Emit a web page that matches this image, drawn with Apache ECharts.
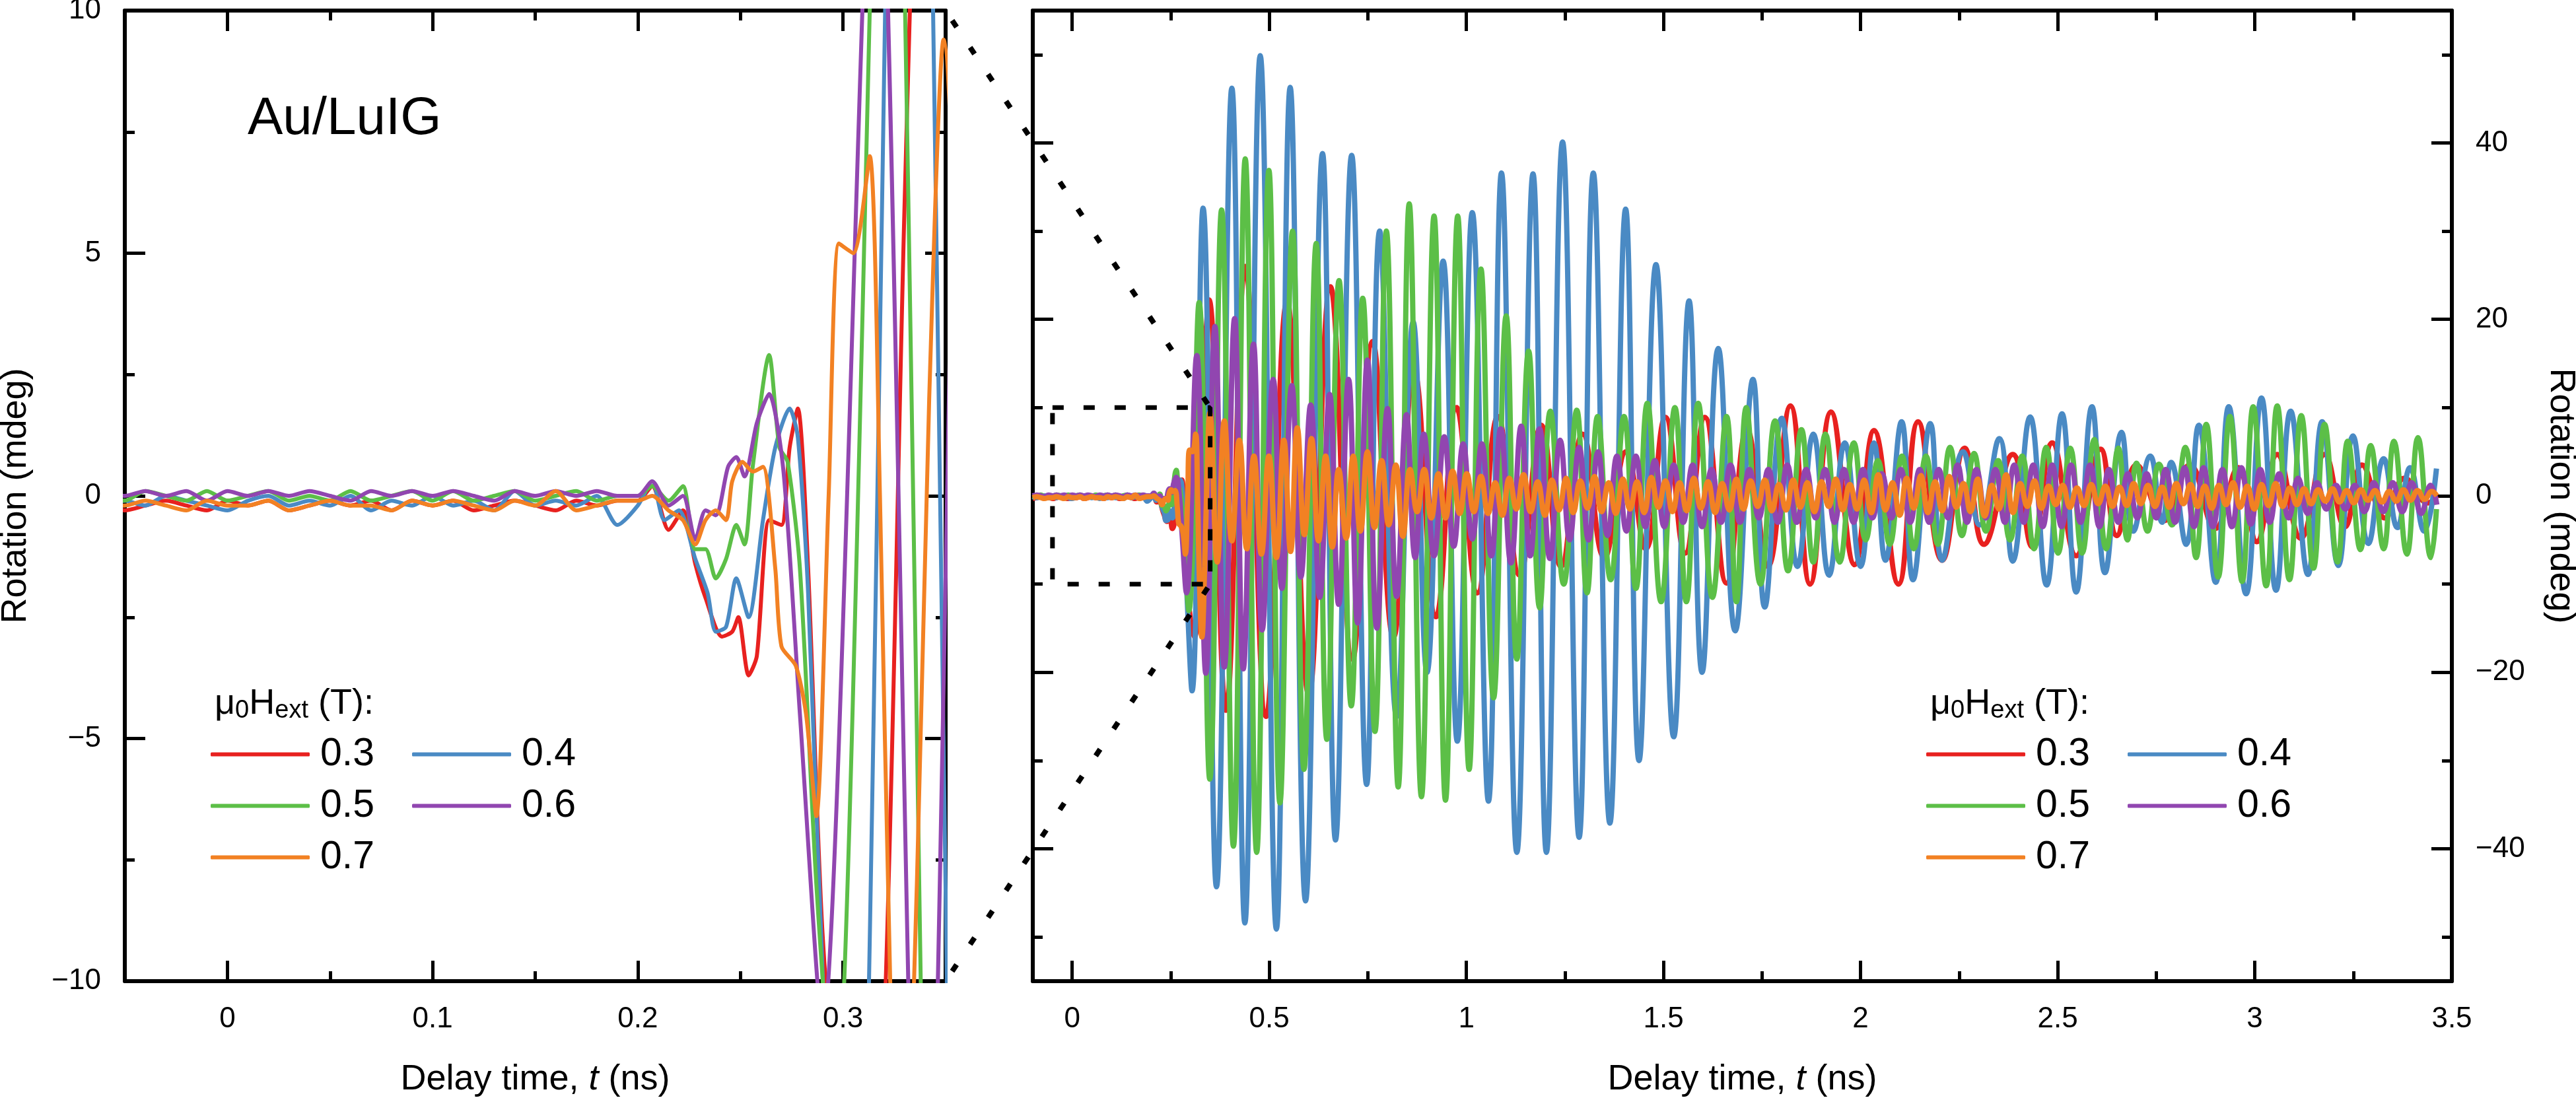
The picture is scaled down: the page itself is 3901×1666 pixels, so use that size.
<!DOCTYPE html>
<html>
<head>
<meta charset="utf-8">
<script src="https://cdn.jsdelivr.net/npm/echarts@6/dist/echarts.min.js"></script>
<style>
html,body{margin:0;padding:0;background:#fff;}
#chart{width:3901px;height:1666px;}
</style>
</head>
<body>
<div id="chart"></div>
<script>
var FONT = '"Liberation Sans", Arial, sans-serif';

// field values (T) and colours
var fieldNames = ['0.3', '0.4', '0.5', '0.6', '0.7'];
var fieldColors = ['#e8211f', '#4a8ac4', '#5cbf47', '#9146b0', '#f28123'];

// axis ranges
var zoomT = [-0.05, 0.35], zoomV = [-10, 10];
var fullT = [-0.1, 3.5], fullV = [-55, 55];

// tick positions
var leftXMajor = [0, 0.1, 0.2, 0.3];
var leftXMinor = [0.05, 0.15, 0.25];
var leftYMajor = [-10, -5, 0, 5, 10];
var leftYMinor = [-7.5, -2.5, 2.5, 7.5];
var rightXMajor = [0, 0.5, 1, 1.5, 2, 2.5, 3, 3.5];
var rightXMinor = [0.25, 0.75, 1.25, 1.75, 2.25, 2.75, 3.25];
var rightYMajor = [-40, -20, 0, 20, 40];
var rightYMinor = [-50, -30, -10, 10, 30, 50];

// pre-excitation baseline, sampled every 10 ps
var baseT = [-0.10,-0.09,-0.08,-0.07,-0.06,-0.05,-0.04,-0.03,-0.02,-0.01,0,0.01,0.02,0.03,0.04,0.05,0.06,0.07,0.08,0.09,0.10,0.11,0.12,0.13,0.14,0.15,0.16,0.17,0.18,0.19];
var base03 = [-0.3,-0.2,-0.1,-0.2,-0.1,-0.3,-0.2,-0.1,-0.2,-0.3,-0.1,-0.2,-0.1,-0.3,-0.2,-0.1,-0.2,-0.1,-0.3,-0.1,-0.2,-0.1,-0.3,-0.2,-0.1,-0.2,-0.3,-0.1,-0.2,-0.1];
var base04 = [-0.1,-0.2,-0.1,0.0,-0.2,-0.1,-0.2,0.0,-0.1,-0.2,-0.3,-0.1,0.0,-0.2,-0.1,-0.2,0.0,-0.3,-0.1,-0.2,0.0,-0.2,-0.1,-0.3,0.1,-0.2,-0.1,-0.2,0.0,-0.6];
var base05 = [0.0,-0.1,0.1,-0.1,0.0,-0.1,0.1,0.0,-0.1,0.1,-0.1,0.0,0.1,-0.1,0.0,-0.1,0.1,-0.1,0.0,0.1,-0.1,0.1,-0.1,0.0,0.1,-0.1,0.0,0.1,-0.1,0.0];
var base06 = [0.0,0.1,0.0,-0.1,0.1,0.0,0.1,0.0,0.1,-0.1,0.1,0.0,0.1,0.0,0.1,0.0,-0.1,0.1,0.0,0.1,0.0,0.1,0.0,-0.1,0.1,0.0,0.1,0.0,0.1,0.0];
var base07 = [-0.2,-0.1,-0.2,-0.3,-0.2,-0.2,-0.1,-0.2,-0.3,-0.1,-0.2,-0.2,-0.1,-0.3,-0.2,-0.1,-0.2,-0.2,-0.3,-0.1,-0.2,-0.1,-0.2,-0.3,-0.1,-0.2,0.1,-0.3,-0.2,-0.1];

// signal after excitation: [t (ns), rotation (mdeg)]
var wave03 = [[0.200,-0.1],[0.207,0.2],[0.215,-0.7],[0.222,-0.3],[0.228,-1.4],[0.233,-2.1],[0.241,-2.9],[0.246,-2.8],[0.249,-2.5],[0.254,-3.7],[0.258,-3.3],[0.264,-0.5],[0.270,-0.6],[0.274,1.0],[0.278,1.8],[0.283,-1.5],[0.290,-9],[0.300,-14],[0.310,-16],[0.320,-11],[0.330,6],[0.338,17],[0.347,22.2],
[0.390,-24.3],[0.439,26],[0.492,-25],[0.545,22],[0.600,-22.5],[0.655,23.7],[0.711,-18.5],[0.762,17.5],[0.815,-16],[0.868,14],[0.923,-13.7],[0.975,10],[1.028,-11],[1.080,9],[1.135,-9],[1.190,8],[1.240,-8],[1.295,7],[1.350,-7],[1.405,5],[1.455,-6],[1.505,8.9],[1.555,-6.5],[1.605,8.9],[1.660,-9.9],[1.712,7.5],[1.765,-8],[1.822,10.2],[1.872,-10],[1.925,9.5],[1.985,-7.8],[2.034,7.4],[2.096,-10],[2.146,8.4],[2.207,-7.3],[2.264,5.4],[2.313,-5.5],[2.386,4.7],[2.436,-5.8],[2.486,6],[2.547,-6.8],[2.609,5.3],[2.650,-4.5],[2.700,3.5],[2.770,-2.8],[2.835,3.5],[2.900,-3.7],[2.958,3.2],[3.005,-5.2],[3.057,4.7],[3.117,-4.8],[3.177,4.7],[3.229,-3.5],[3.272,3.5],[3.330,-2.5],[3.380,2],[3.440,-0.8],[3.462,0]];

var wave04 = [[0.200,-0.2],[0.207,0.3],[0.213,-0.5],[0.220,-0.3],[0.228,-1.3],[0.234,-2.0],[0.238,-2.8],[0.243,-2.7],[0.248,-1.7],[0.254,-2.5],[0.261,-0.5],[0.267,1.0],[0.274,1.8],[0.278,1.2],[0.283,-2],[0.292,-12],[0.304,-22.1],[0.332,32.6],[0.366,-44.3],
[0.405,46.2],[0.438,-48.4],[0.477,49.9],[0.518,-49.1],[0.553,46.3],[0.592,-45.9],[0.635,38.8],[0.668,-39],[0.709,38.6],[0.747,-32.7],[0.780,30],[0.823,-25],[0.865,19.7],[0.900,-20],[0.941,26.6],[0.977,-27.8],[1.015,32.1],[1.056,-34.6],[1.089,36.6],[1.128,-40.4],[1.169,36.5],[1.203,-40.4],[1.244,40.1],[1.286,-38.7],[1.322,36.6],[1.364,-37.1],[1.404,32.5],[1.438,-30],[1.481,26.2],[1.526,-27.3],[1.565,22.1],[1.598,-20],[1.639,16.7],[1.682,-15.3],[1.727,13.2],[1.757,-12.6],[1.800,8.8],[1.840,-8],[1.880,7],[1.920,-9],[1.960,6],[2.000,-8],[2.034,6],[2.063,-7.3],[2.104,8.4],[2.133,-9.5],[2.177,8.2],[2.207,-7.3],[2.260,5],[2.302,-3.3],[2.352,6.5],[2.386,-7.4],[2.430,8.95],[2.472,-10.1],[2.511,9.3],[2.547,-10.9],[2.587,10.1],[2.620,-8.7],[2.662,7.2],[2.692,-4.0],[2.735,4.5],[2.765,-3],[2.788,3.8],[2.826,-5.5],[2.858,8.0],[2.901,-9.8],[2.934,10.1],[2.978,-11.1],[3.017,11.1],[3.054,-10.7],[3.091,9.6],[3.135,-8.9],[3.171,8.4],[3.212,-7.9],[3.249,6.8],[3.288,-5.4],[3.327,4.2],[3.362,-3.6],[3.394,3.2],[3.430,-4.0],[3.461,3.1]];

var wave05 = [[0.200,0.0],[0.207,0.2],[0.215,-0.1],[0.222,0.2],[0.228,-1.1],[0.233,-1.1],[0.238,-1.7],[0.243,-1.3],[0.248,-0.6],[0.252,-1.0],[0.256,0.6],[0.264,2.9],[0.269,1.0],[0.273,0.7],[0.279,-1.5],[0.287,-8],[0.296,-13],[0.322,21.9],[0.349,-32.1],
[0.379,32.4],[0.409,-39.7],[0.439,38.2],[0.468,-40.4],[0.499,36.9],[0.527,-34.8],[0.559,30.0],[0.588,-31],[0.619,28.6],[0.646,-27.6],[0.677,24.4],[0.708,-23.8],[0.737,22.4],[0.768,-26.7],[0.797,30.0],[0.827,-33.0],[0.855,33.1],[0.886,-34.1],[0.918,31.7],[0.947,-34.5],[0.978,31.7],[1.007,-31.0],[1.037,25.7],[1.069,-22.9],[1.101,20.4],[1.128,-18.5],[1.158,16.4],[1.186,-12.7],[1.213,9.6],[1.247,-10],[1.280,9.7],[1.306,-11],[1.333,9.0],[1.366,-9.5],[1.400,9.0],[1.430,-10.5],[1.459,10.5],[1.494,-12],[1.529,10.0],[1.558,-12],[1.588,10.5],[1.624,-11.5],[1.660,9.0],[1.685,-12],[1.710,10.0],[1.746,-10],[1.783,8.5],[1.816,-8.5],[1.850,7.5],[1.880,-7.5],[1.911,7.0],[1.947,-7.5],[1.983,6.0],[2.013,-5],[2.044,4.0],[2.074,-5.5],[2.105,4.5],[2.135,-6],[2.166,4.5],[2.196,-5.5],[2.227,5.5],[2.257,-4.5],[2.288,4.8],[2.318,-4],[2.349,4.0],[2.379,-5],[2.410,4.5],[2.440,-6],[2.471,5.5],[2.501,-6.5],[2.532,5.4],[2.562,-6.5],[2.593,6.4],[2.623,-6],[2.654,5.4],[2.677,-5],[2.700,3.7],[2.728,-4],[2.757,3.6],[2.790,-3.3],[2.824,5.5],[2.851,-7.0],[2.877,8.1],[2.907,-9.2],[2.937,9.0],[2.968,-9.7],[2.996,10.1],[3.029,-10.2],[3.057,10.2],[3.088,-9.5],[3.118,9.1],[3.149,-8.2],[3.177,8.1],[3.210,-7.5],[3.236,6.2],[3.268,-6.1],[3.294,5.7],[3.327,-6.0],[3.353,6.2],[3.386,-6.6],[3.414,6.6],[3.447,-7.0],[3.461,-1.5]];

var wave06 = [[0.200,0.0],[0.207,0.3],[0.215,-0.2],[0.222,0.0],[0.228,-0.9],[0.233,-0.3],[0.238,-0.4],[0.244,0.6],[0.248,0.8],[0.252,0.4],[0.258,1.5],[0.264,2.1],[0.271,0.5],[0.279,-4.5],[0.290,-11],[0.316,15.9],[0.339,-20.1],
[0.362,19.2],[0.386,-19.4],[0.412,20.1],[0.434,-19.6],[0.460,17.2],[0.482,-15.2],[0.510,13.2],[0.532,-10.5],[0.557,12.5],[0.580,-9.2],[0.605,10.3],[0.628,-11.5],[0.653,11.5],[0.676,-12.3],[0.701,13.2],[0.724,-14.4],[0.749,15.4],[0.773,-15],[0.800,9.9],[0.823,-11.4],[0.848,9.2],[0.870,-7],[0.892,7.0],[0.918,-6.8],[0.944,6.7],[0.968,-5.7],[0.992,5.9],[1.015,-4.9],[1.039,5.9],[1.063,-6.8],[1.087,7.6],[1.113,-7.6],[1.139,7.9],[1.162,-6.8],[1.186,7.6],[1.212,-7.1],[1.238,6.3],
[1.262,-5],[1.286,5.5],[1.310,-5],[1.334,5],[1.358,-4.5],[1.382,4.5],[1.406,-4],[1.430,4.5],[1.454,-3.5],[1.478,4],[1.502,-3.5],[1.526,3.5],[1.550,-3],[1.574,3.5],[1.598,-3.5],[1.622,3],[1.646,-3],[1.670,3.5],[1.694,-3],[1.718,3],[1.742,-2.5],[1.766,3],[1.790,-3],[1.814,3.5],[1.838,-3],[1.862,3],[1.886,-2.5],[1.910,3],[1.934,-3],[1.958,3],[1.982,-3],[2.006,3],[2.030,-2.5],[2.054,2.5],[2.078,-2.5],[2.102,3],[2.126,-3],[2.150,3],[2.174,-3],[2.198,3],[2.222,-2.5],[2.246,3.5],[2.270,-3],[2.294,3],[2.318,-2.5],[2.342,3],[2.366,-3],[2.390,3.5],[2.414,-3],[2.438,3.5],[2.462,-3.5],[2.486,3.5],[2.510,-3.5],[2.534,3.5],[2.558,-3],[2.582,3.5],[2.606,-3.5],[2.630,3],[2.654,-3],[2.678,2.5],[2.702,-2.5],[2.726,2.5],[2.750,-2.5],[2.774,3],[2.798,-3],[2.822,3.2],[2.846,-3.5],[2.870,3.2],[2.894,-3.5],[2.918,3],[2.942,-3.5],[2.966,3.2],[2.990,-3.2],[3.014,3],[3.038,-3],[3.062,2.5],[3.086,-2.5],[3.110,2],[3.134,-2],[3.158,1.5],[3.182,-1.5],[3.206,1.2],[3.230,-1.5],[3.254,1.2],[3.278,-1.8],[3.302,1.5],[3.326,-1.8],[3.350,1.5],[3.374,-1.8],[3.398,1.5],[3.422,-2],[3.446,1.2],[3.462,-1]];

var wave07 = [[0.200,-0.1],[0.207,0.0],[0.215,-0.3],[0.222,-0.5],[0.228,-1.0],[0.233,-0.5],[0.238,-0.3],[0.243,-0.5],[0.246,0.3],[0.251,0.7],[0.256,0.5],[0.261,0.6],[0.267,-1.5],[0.270,-3.1],[0.277,-3.5],[0.282,-4.5],[0.287,-6.6],[0.293,0],[0.298,5.2],[0.305,5.0],[0.313,7.0],[0.318,0],[0.323,-10],[0.329,-16],[0.336,-8],[0.342,2],[0.349,9.4],
[0.368,-7.5],[0.386,8.5],[0.405,-5.1],[0.424,6.3],[0.443,-6],[0.461,4.5],[0.480,-6.6],[0.499,4.5],[0.518,-7.0],[0.537,6.3],[0.554,-6.3],[0.571,7.7],[0.589,-4.4],[0.607,6.5],[0.625,-5.1],[0.643,4.5],[0.660,-5.8],[0.676,3.0],[0.695,-4.8],[0.713,4.5],[0.731,-4],[0.749,5],[0.767,-3.6],[0.785,4],[0.803,-3.3],[0.821,3.5],[0.839,-4.6],[0.857,3],[0.875,-1.8],[0.893,3],[0.911,-2.5],[0.929,2.5],[0.947,-2.5],[0.965,2.8],[0.983,-2],[1.001,2.5],
[1.019,-1.8],[1.037,2.2],[1.055,-2.0],[1.073,1.5],[1.091,-2.2],[1.109,2.0],[1.127,-1.5],[1.145,2.4],[1.163,-1.8],[1.181,1.6],[1.199,-2.2],[1.217,1.8],[1.235,-1.6],[1.253,2.0],[1.271,-1.9],[1.289,1.7],[1.307,-1.4],[1.325,2.2],[1.343,-1.8],[1.361,1.5],[1.379,-2.0],[1.397,1.9],[1.415,-1.5],[1.433,1.6],[1.451,-1.9],[1.469,2.1],[1.487,-1.3],[1.505,1.7],[1.523,-1.8],[1.541,1.5],[1.559,-1.7],[1.577,2.0],[1.595,-1.4],[1.613,1.6],[1.631,-1.9],[1.649,1.4],[1.667,-1.6],[1.685,1.9],[1.703,-1.5],[1.721,1.7],[1.739,-1.2],[1.757,1.8],[1.775,-1.7],[1.793,1.3],[1.811,-1.6],[1.829,1.8],[1.847,-1.3],[1.865,1.5],[1.883,-1.8],[1.901,1.6],[1.919,-1.2],[1.937,1.9],[1.955,-1.6],[1.973,1.3],[1.991,-1.5],[2.009,1.8],[2.027,-1.9],[2.045,2.4],[2.063,-1.6],[2.081,1.5],[2.099,-2.2],[2.117,2.0],[2.135,-1.4],[2.153,2.3],[2.171,-1.9],[2.189,1.6],[2.207,-1.7],[2.225,2.2],[2.243,-1.3],[2.261,1.4],[2.279,-1.8],[2.297,1.9],[2.315,-2.3],[2.333,1.2],[2.351,-1.5],[2.369,2.4],[2.387,-1.9],[2.405,1.4],[2.423,-1.2],[2.441,1.7],[2.459,-1.4],[2.477,1.1],[2.495,-1.0],[2.513,1.2],[2.531,-1.3],[2.549,0.9],[2.567,-1.1],[2.585,1.3],[2.603,-0.9],[2.621,1.1],[2.639,-1.2],[2.657,1.0],[2.675,-1.1],[2.693,1.4],[2.711,-0.9],[2.729,1.2],[2.747,-1.2],[2.765,1.0],[2.783,-1.3],[2.801,1.4],[2.819,-0.9],[2.837,1.3],[2.855,-1.2],[2.873,1.1],[2.891,-1.4],[2.909,1.2],[2.927,-1.0],[2.945,1.5],[2.963,-1.3],[2.981,1.1],[2.999,-1.5],[3.017,1.3],[3.035,-1.1],[3.053,1.4],[3.071,-1.2],[3.089,0.9],[3.107,-1.0],[3.125,0.8],[3.143,-0.9],[3.161,0.7],[3.179,-0.6],[3.197,0.8],[3.215,-0.7],[3.233,0.6],[3.251,-0.8],[3.269,0.7],[3.287,-0.5],[3.305,0.6],[3.323,-0.7],[3.341,0.5],[3.359,-0.6],[3.377,0.7],[3.395,-0.5],[3.413,0.6],[3.431,-0.4],[3.449,0.5],[3.462,0.0]];

var fieldBase = [base03, base04, base05, base06, base07];
var fieldWave = [wave03, wave04, wave05, wave06, wave07];

function signed(v) {
  return v < 0 ? '\u2212' + Math.abs(v) : String(v);
}

function makeAxis(gridIndex, position, range, ticks, tickLen, withLine, withLabels) {
  return {
    type: 'value', gridIndex: gridIndex, position: position,
    min: range[0], max: range[1],
    axisLine: {show: withLine, onZero: false, lineStyle: {color: '#000', width: 6}},
    axisTick: {show: true, inside: true, length: tickLen, customValues: ticks,
      lineStyle: {color: '#000', width: 5}},
    axisLabel: {show: withLabels, customValues: ticks, formatter: signed, margin: 36,
      color: '#000', fontSize: 44, fontFamily: FONT},
    splitLine: {show: false},
    silent: true
  };
}

var nameRich = {
  n: {fontSize: 54, fontFamily: FONT, color: '#000'},
  i: {fontSize: 54, fontFamily: FONT, color: '#000', fontStyle: 'italic'}
};
var xName = '{n|Delay time, }{i|t}{n| (ns)}';

var MAJ = 31, MIN = 15;
var xAxes = [
  makeAxis(0, 'bottom', zoomT, leftXMajor, MAJ, true, true),
  makeAxis(0, 'bottom', zoomT, leftXMinor, MIN, false, false),
  makeAxis(0, 'top', zoomT, leftXMajor, MAJ, true, false),
  makeAxis(0, 'top', zoomT, leftXMinor, MIN, false, false),
  makeAxis(1, 'bottom', fullT, rightXMajor, MAJ, true, true),
  makeAxis(1, 'bottom', fullT, rightXMinor, MIN, false, false),
  makeAxis(1, 'top', fullT, rightXMajor, MAJ, true, false),
  makeAxis(1, 'top', fullT, rightXMinor, MIN, false, false)
];
[0, 4].forEach(function (k) {
  xAxes[k].name = xName;
  xAxes[k].nameLocation = 'middle';
  xAxes[k].nameGap = 122;
  xAxes[k].nameTextStyle = {rich: nameRich};
});

var yAxes = [
  makeAxis(0, 'left', zoomV, leftYMajor, MAJ, true, true),
  makeAxis(0, 'left', zoomV, leftYMinor, MIN, false, false),
  makeAxis(0, 'right', zoomV, leftYMajor, MAJ, true, false),
  makeAxis(0, 'right', zoomV, leftYMinor, MIN, false, false),
  makeAxis(1, 'right', fullV, rightYMajor, MAJ, true, true),
  makeAxis(1, 'right', fullV, rightYMinor, MIN, false, false),
  makeAxis(1, 'left', fullV, rightYMajor, MAJ, true, false),
  makeAxis(1, 'left', fullV, rightYMinor, MIN, false, false)
];
yAxes[0].name = 'Rotation (mdeg)';
yAxes[0].nameLocation = 'middle';
yAxes[0].nameRotate = 90;
yAxes[0].nameGap = 138;
yAxes[0].nameTextStyle = {fontSize: 54, fontFamily: FONT, color: '#000'};
yAxes[4].name = 'Rotation (mdeg)';
yAxes[4].nameLocation = 'middle';
yAxes[4].nameRotate = -90;
yAxes[4].nameGap = 138;
yAxes[4].nameTextStyle = {fontSize: 54, fontFamily: FONT, color: '#000'};

var series = [];
fieldNames.forEach(function (name, i) {
  var pts = baseT.map(function (t, j) { return [t, fieldBase[i][j]]; }).concat(fieldWave[i]);
  series.push({
    name: name, type: 'line', xAxisIndex: 0, yAxisIndex: 0, data: pts,
    showSymbol: false, symbol: 'none', smooth: 0.25, clip: true,
    color: fieldColors[i], lineStyle: {width: 6, color: fieldColors[i]},
    silent: true, z: 2 + i
  });
  series.push({
    name: name, type: 'line', xAxisIndex: 4, yAxisIndex: 4, data: pts,
    showSymbol: false, symbol: 'none', smooth: 0.45, clip: true,
    color: fieldColors[i], lineStyle: {width: 8, color: fieldColors[i]},
    silent: true, z: 2 + i
  });
});
// dashed outline of the zoomed window
series.push({
  name: 'window', type: 'line', xAxisIndex: 4, yAxisIndex: 4,
  data: [[zoomT[0], zoomV[1]], [zoomT[1], zoomV[1]], [zoomT[1], zoomV[0]], [zoomT[0], zoomV[0]], [zoomT[0], zoomV[1]]],
  showSymbol: false, symbol: 'none', silent: true, z: 20,
  lineStyle: {color: '#000', width: 7, type: [17, 30]}
});

function legendAt(left) {
  return {
    left: left, top: 1108, width: 600, orient: 'horizontal',
    data: fieldNames, selectedMode: false,
    icon: 'roundRect', itemWidth: 150, itemHeight: 6, itemGap: 19,
    textStyle: {fontSize: 59, lineHeight: 59, fontFamily: FONT, color: '#000', padding: [0, 38, 0, 11]}
  };
}

var legendTitleRich = {
  a: {fontSize: 54, fontWeight: 'normal', fontFamily: FONT, color: '#000', padding: [0, 0, 3, 0], verticalAlign: 'bottom'},
  s: {fontSize: 38, fontWeight: 'normal', fontFamily: FONT, color: '#000', verticalAlign: 'bottom'}
};
var legendTitle = '{a|\u03bc}{s|0}{a|H}{s|ext}{a| (T):}';

var option = {
  animation: false,
  backgroundColor: '#fff',
  textStyle: {fontFamily: FONT},
  grid: [
    {left: 189, top: 16, width: 1243, height: 1470, containLabel: false, outerBoundsMode: 'none'},
    {left: 1564, top: 16, width: 2149, height: 1470, containLabel: false, outerBoundsMode: 'none'}
  ],
  title: [
    {text: 'Au/LuIG', left: 370, top: 136,
      textStyle: {fontSize: 80, fontWeight: 'normal', fontFamily: FONT, color: '#000'}},
    {text: legendTitle, left: 320, top: 1034, textStyle: {fontWeight: 'normal', rich: legendTitleRich}},
    {text: legendTitle, left: 2918, top: 1034, textStyle: {fontWeight: 'normal', rich: legendTitleRich}}
  ],
  legend: [legendAt(314), legendAt(2912)],
  xAxis: xAxes,
  yAxis: yAxes,
  series: series
};

var chart = echarts.init(document.getElementById('chart'), null, {renderer: 'canvas'});
chart.setOption(option);

// dotted guide lines from the zoom panel corners to the window corners
var topL = chart.convertToPixel({gridIndex: 0}, [zoomT[1], zoomV[1]]);
var botL = chart.convertToPixel({gridIndex: 0}, [zoomT[1], zoomV[0]]);
var topR = chart.convertToPixel({gridIndex: 1}, [zoomT[1], zoomV[1]]);
var botR = chart.convertToPixel({gridIndex: 1}, [zoomT[1], zoomV[0]]);
function guide(a, b) {
  return {
    type: 'line', z: 100, silent: true,
    shape: {x1: a[0], y1: a[1], x2: b[0], y2: b[1]},
    style: {stroke: '#000', lineWidth: 8, lineDash: [12, 37], lineDashOffset: -18}
  };
}
chart.setOption({graphic: [guide(topL, topR), guide(botL, botR)]});
</script>
</body>
</html>
